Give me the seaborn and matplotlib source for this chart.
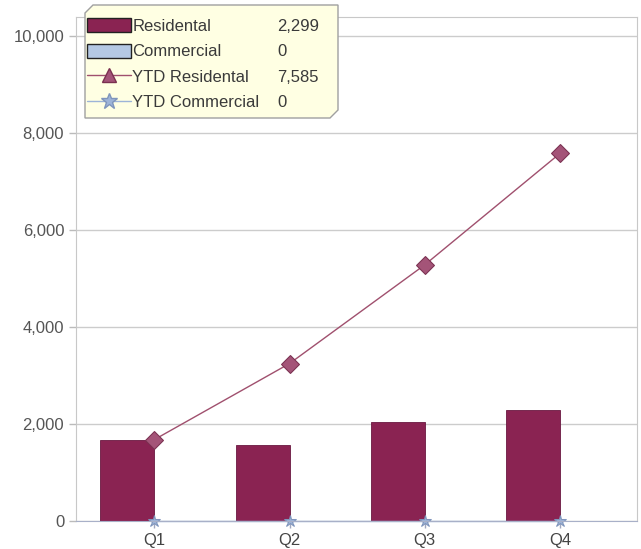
import numpy as np
import pandas as pd
import matplotlib
matplotlib.use("Agg")
import matplotlib.pyplot as plt
from matplotlib.patches import Patch, Polygon
from matplotlib.lines import Line2D
import seaborn as sns

# values
quarters = ["Q1", "Q2", "Q3", "Q4"]
residental = [1680, 1570, 2036, 2299]
commercial = [0, 0, 0, 0]
ytd_residental = [1680, 3250, 5286, 7585]
ytd_commercial = [0, 0, 0, 0]
yticks = [0, 2000, 4000, 6000, 8000, 10000]

res_color = "#8A2352"
com_color = "#B4C8E4"
line_color = "#A0506E"
diamond_color = "#A45478"
star_color = "#9DB4D8"

sns.set_style("white")
plt.rcParams["font.family"] = ["Liberation Sans", "DejaVu Sans"]

df = pd.DataFrame({
    "quarter": quarters * 2,
    "type": ["Residental"] * 4 + ["Commercial"] * 4,
    "value": residental + commercial,
})

W, H = 641, 549
fig = plt.figure(figsize=(W / 100, H / 100), dpi=100)
ax = fig.add_axes([76 / W, 1 - 521 / H, (637 - 76) / W, (521 - 17) / H])

sns.barplot(data=df, x="quarter", y="value", hue="type",
            palette={"Residental": res_color, "Commercial": com_color},
            saturation=1, width=0.8, edgecolor="#6A1840", linewidth=0.6,
            legend=False, ax=ax)

sns.pointplot(x=quarters, y=ytd_residental, color=line_color, marker="D",
              markersize=9, linewidth=1.0, markeredgecolor="#7A3050",
              markerfacecolor=diamond_color, ax=ax)
sns.pointplot(x=quarters, y=ytd_commercial, color=star_color, marker="*",
              markersize=9, linewidth=1.0, markeredgecolor="#7F95BC", ax=ax)
for ln in ax.lines:
    ln.set_clip_on(False)

ax.set_xlim(-0.58, 3.57)
ax.set_ylim(0, 10400)
ax.set_yticks(yticks)
ax.set_yticklabels([f"{v:,}" for v in yticks])
ax.set_xlabel("")
ax.set_ylabel("")
ax.yaxis.grid(True, color="#CCCCCC", linewidth=1)
ax.set_axisbelow(True)
ax.tick_params(axis="both", labelsize=12, length=5, width=1,
               direction="out", left=True, bottom=True)
ax.tick_params(axis="x", colors="#A0A8C0", labelcolor="#444444")
ax.tick_params(axis="y", colors="#BBBBBB", labelcolor="#555555")
for side in ["left", "top", "right"]:
    ax.spines[side].set_color("#C8C8C8")
ax.spines["bottom"].set_color("#A8B0C8")

# tooltip-like legend box with cut corners (pixel coords)
x0, y0, x1, y1, c = 85, 5, 338, 118, 8
pts = [(x0 + c, y0), (x1, y0), (x1, y1 - c), (x1 - c, y1), (x0, y1), (x0, y0 + c)]
box = Polygon([(x / W, 1 - y / H) for x, y in pts], closed=True,
              transform=fig.transFigure, facecolor="#FFFFE3",
              edgecolor="#A0A0A0", linewidth=1, zorder=9)
fig.patches.append(box)

handles = [
    Patch(facecolor=res_color, edgecolor="#222222", linewidth=1),
    Patch(facecolor=com_color, edgecolor="#222222", linewidth=1),
    Line2D([0], [0], color=line_color, marker="^", markersize=10,
           markerfacecolor=diamond_color, markeredgecolor="#7A3050", linewidth=1),
    Line2D([0], [0], color=star_color, marker="*", markersize=12,
           markerfacecolor=star_color, markeredgecolor="#7F95BC", linewidth=1),
]
names = ["Residental", "Commercial", "YTD Residental", "YTD Commercial"]
leg = fig.legend(handles, names, loc="upper left",
                 bbox_to_anchor=(84 / W, 1 - 15 / H), bbox_transform=fig.transFigure,
                 fontsize=12, frameon=False, borderaxespad=0,
                 handlelength=2.6, handleheight=0.9, handletextpad=0.1,
                 labelspacing=0.58, borderpad=0.2)
leg.set_zorder(10)
for t in leg.get_texts():
    t.set_color("#3A3A3A")

values = [residental[-1], commercial[-1], ytd_residental[-1], ytd_commercial[-1]]
fig.canvas.draw()
for t, v in zip(leg.get_texts(), values):
    bb = t.get_window_extent()
    yc = (bb.y0 + bb.y1) / 2 / fig.bbox.height
    fig.text(277 / W, yc, f"{v:,}", fontsize=12, color="#3A3A3A", va="center", zorder=11)

fig.savefig("out.png", dpi=100)
